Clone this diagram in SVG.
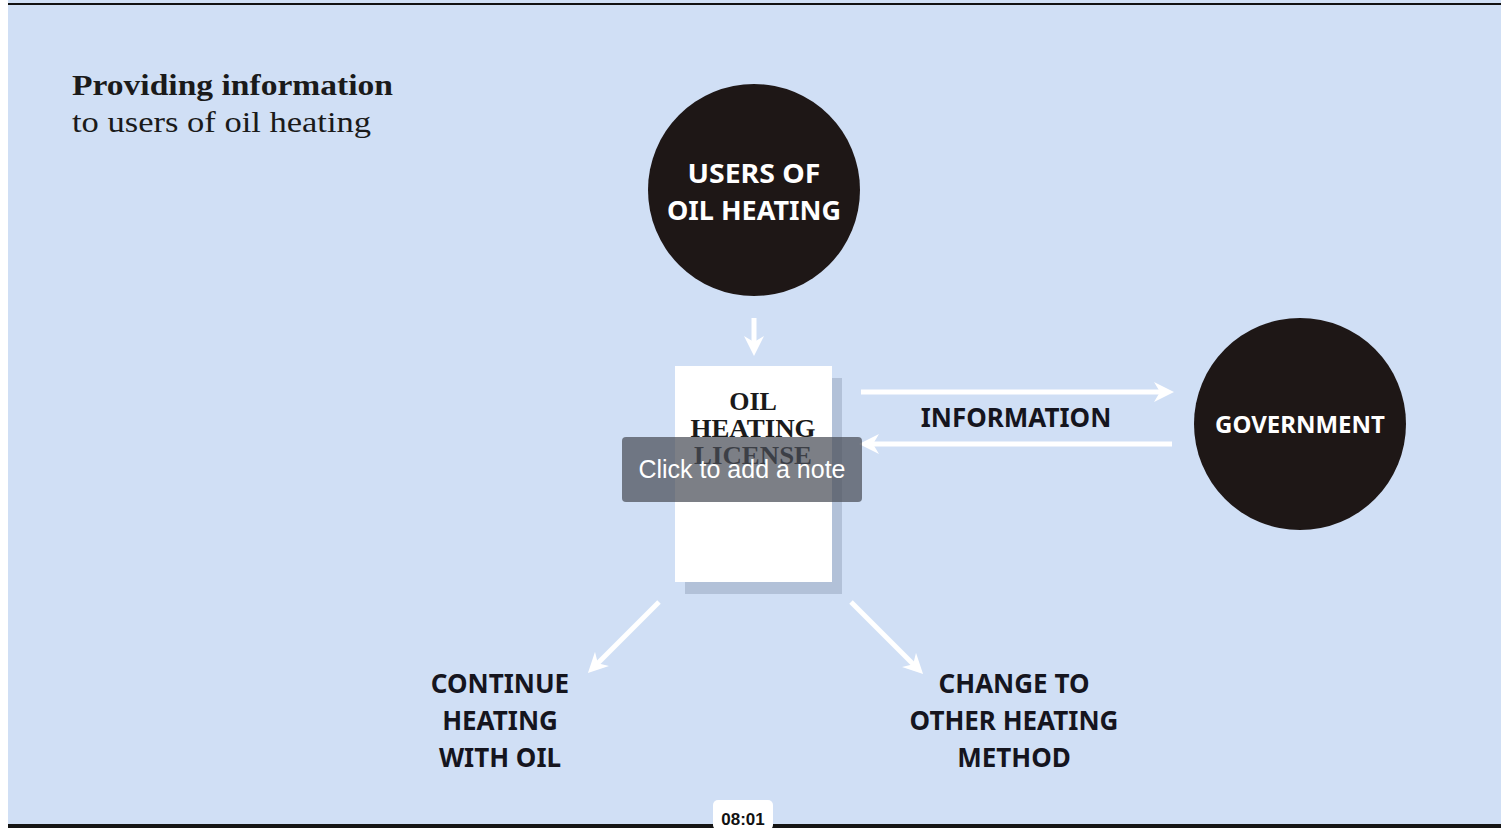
<svg xmlns="http://www.w3.org/2000/svg" width="1501" height="828" viewBox="0 0 1501 828">
<defs>
<marker id="ah" viewBox="0 0 10 10" refX="5" refY="5" markerWidth="4" markerHeight="4" orient="auto" markerUnits="strokeWidth">
<path d="M0,0 L10,5 L0,10 L3,5 Z" fill="#ffffff"/>
</marker>
<style>
.circ{fill:#1e1716}
.ctext{font-family:"Noto Sans","Open Sans",sans-serif;font-weight:700;fill:#ffffff;text-anchor:middle}
.label{font-family:"Noto Sans","Open Sans",sans-serif;font-weight:700;fill:#15151e;text-anchor:middle;font-size:26px}
.conn{stroke:#ffffff;stroke-width:5;fill:none;marker-end:url(#ah)}
.serif{font-family:"Liberation Serif","DejaVu Serif",serif;fill:#1a1a1a}
</style>
</defs>
<rect x="0" y="0" width="1501" height="828" fill="#ffffff"/>
<rect x="8" y="0" width="1493" height="828" fill="#d0dff5"/>
<rect x="8" y="3" width="1493" height="2" fill="#111111"/>

<g id="title">
<text class="serif" x="72" y="95" font-size="30" font-weight="700" textLength="321" lengthAdjust="spacingAndGlyphs">Providing information</text>
<text class="serif" x="72" y="132" font-size="30" textLength="299" lengthAdjust="spacingAndGlyphs">to users of oil heating</text>
</g>

<g id="connectors">
<line class="conn" x1="754" y1="318" x2="754" y2="346"/>
<line class="conn" x1="861" y1="392" x2="1164" y2="392"/>
<line class="conn" x1="1172" y1="444" x2="869" y2="444"/>
<line class="conn" x1="659" y1="602" x2="595" y2="666"/>
<line class="conn" x1="851" y1="602" x2="916" y2="667"/>
</g>

<g id="users">
<circle class="circ" cx="754" cy="190" r="106"/>
<text class="ctext" x="754" y="183" font-size="27" textLength="133" lengthAdjust="spacingAndGlyphs">USERS OF</text>
<text class="ctext" x="754" y="220" font-size="27">OIL HEATING</text>
</g>

<g id="government">
<circle class="circ" cx="1300" cy="424" r="106"/>
<text class="ctext" x="1300" y="433" font-size="24">GOVERNMENT</text>
</g>

<g id="license">
<rect x="685" y="378" width="157" height="216" fill="#b2c1d8"/>
<rect x="675" y="366" width="157" height="216" fill="#ffffff"/>
<text class="serif" x="753" y="410" font-size="26" font-weight="700" text-anchor="middle" fill="#111111">OIL</text>
<text class="serif" x="753" y="437" font-size="26" font-weight="700" text-anchor="middle" fill="#111111" textLength="125" lengthAdjust="spacingAndGlyphs">HEATING</text>
<text class="serif" x="753" y="464" font-size="26" font-weight="700" text-anchor="middle" fill="#111111" textLength="118" lengthAdjust="spacingAndGlyphs">LICENSE</text>
</g>

<g id="information">
<text class="label" x="1016" y="427">INFORMATION</text>
</g>

<g id="continue">
<text class="label" x="500" y="693">CONTINUE</text>
<text class="label" x="500" y="730">HEATING</text>
<text class="label" x="500" y="767">WITH OIL</text>
</g>

<g id="change">
<text class="label" x="1014" y="693">CHANGE TO</text>
<text class="label" x="1014" y="730">OTHER HEATING</text>
<text class="label" x="1014" y="767">METHOD</text>
</g>

<g id="note">
<rect x="622" y="437" width="240" height="65" rx="4" fill="#4a4e58" fill-opacity="0.72"/>
<text x="742" y="478" font-family="Liberation Sans, Arial, sans-serif" font-size="25" fill="#ffffff" text-anchor="middle">Click to add a note</text>
</g>

<g id="player">
<rect x="8" y="824" width="1493" height="4" fill="#151515"/>
<path d="M30,824 L42,818 L54,824 Z" fill="#d0dff5"/>
<rect x="713" y="800" width="60" height="30" rx="5" fill="#ffffff"/>
<text x="743" y="825" font-family="Liberation Sans, Arial, sans-serif" font-size="17" font-weight="700" fill="#111111" text-anchor="middle">08:01</text>
</g>
</svg>
